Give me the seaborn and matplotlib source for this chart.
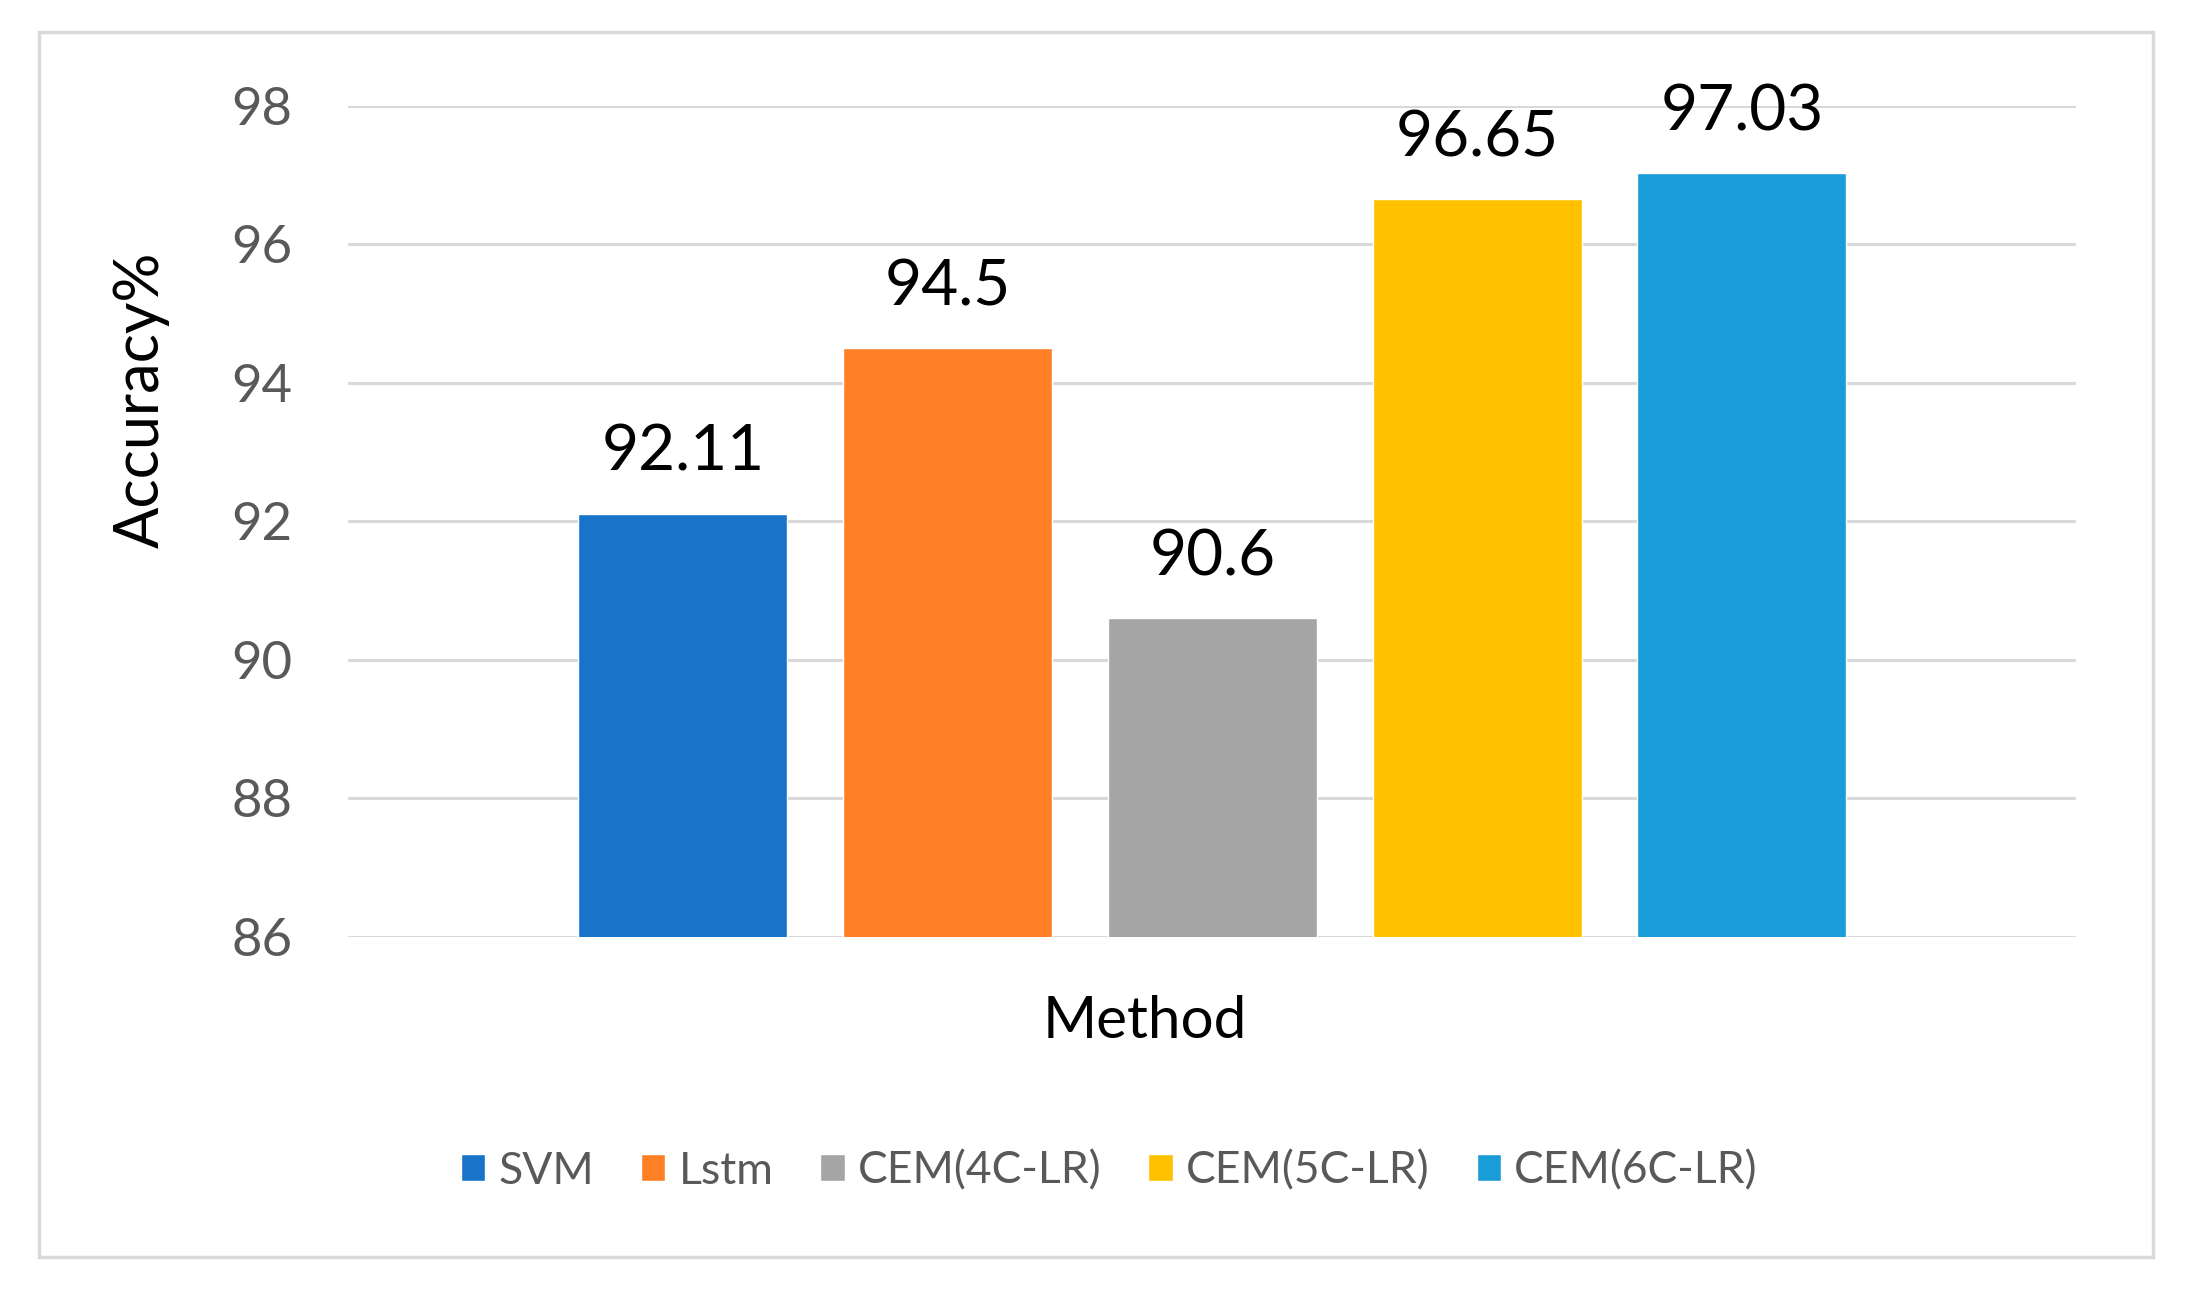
import pandas as pd
import matplotlib.pyplot as plt
import matplotlib.patches as mpatches
import seaborn as sns

# Accuracy per method (single "Method" category, one bar per method)
METHODS = ["SVM", "Lstm", "CEM(4C-LR)", "CEM(5C-LR)", "CEM(6C-LR)"]
ACCURACY = [92.11, 94.5, 90.6, 96.65, 97.03]
COLORS = ["#1874C9", "#FF7F27", "#A5A5A5", "#FFC000", "#199CD8"]
Y_TICKS = [86, 88, 90, 92, 94, 96, 98]

sns.set_theme(style="white")
plt.rcParams["font.family"] = ["Lato", "DejaVu Sans"]

df = pd.DataFrame({"group": ["Method"] * len(METHODS), "method": METHODS, "acc": ACCURACY})

fig = plt.figure(figsize=(21.85, 12.91), dpi=100)
ax = fig.add_axes([0.1594, 0.2743, 0.7909, 0.6436])

sns.barplot(
    data=df,
    x="group",
    y="acc",
    hue="method",
    hue_order=METHODS,
    palette=dict(zip(METHODS, COLORS)),
    width=0.766,
    gap=0.21,
    saturation=1,
    ax=ax,
    zorder=3,
)

for cont in ax.containers:
    ax.bar_label(cont, fmt="%g", padding=23, fontsize=46, color="black", zorder=4)

ax.set_ylim(86, 98)
ax.set_yticks(Y_TICKS)
ax.set_xlim(-0.5, 0.5)
ax.yaxis.grid(True, color="#d9d9d9", linewidth=2.2, zorder=0)
ax.set_axisbelow(True)
for s in ax.spines.values():
    s.set_visible(False)
ax.tick_params(axis="y", length=0, pad=40, labelsize=38, labelcolor="#595959")
ax.tick_params(axis="x", length=0, labelbottom=False)

ax.set_ylabel("Accuracy%", fontsize=44, color="black")
ax.yaxis.set_label_coords(-0.103, 0.646)
ax.set_xlabel("Method", fontsize=42, color="black")
ax.xaxis.set_label_coords(0.461, -0.102)
ax.xaxis.label.set_verticalalignment("center")

handles, labels = ax.get_legend_handles_labels()
ax.get_legend().remove()
fig.legend(
    handles, labels,
    loc="center",
    bbox_to_anchor=(0.5077, 0.093),
    ncol=5,
    frameon=False,
    fontsize=32,
    labelcolor="#595959",
    handlelength=0.55,
    handleheight=0.55,
    handletextpad=0.3,
    columnspacing=1.05,
)

# light grey chart border
fig.patches.append(mpatches.Rectangle(
    (0.0179, 0.026), 0.9674, 0.9492, transform=fig.transFigure,
    fill=False, edgecolor="#d9d9d9", linewidth=2.5,
))

fig.savefig("out.png", dpi=100)
